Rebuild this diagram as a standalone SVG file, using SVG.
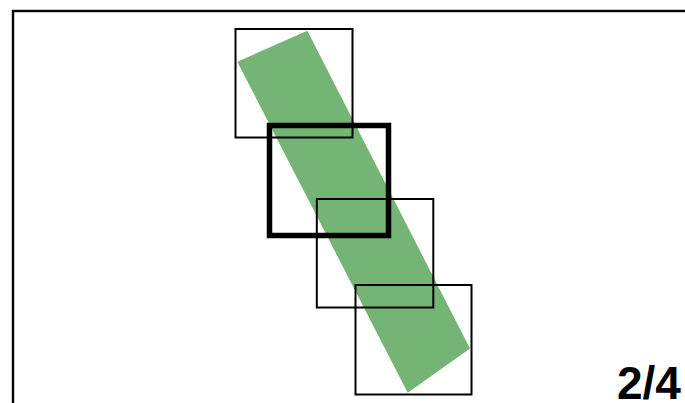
<svg xmlns="http://www.w3.org/2000/svg" width="685" height="403" viewBox="0 0 685 403">
<style>
.box{fill:none;stroke:#000;stroke-width:2}
.thick{fill:none;stroke:#000;stroke-width:5.5}
.lbl{font-family:"Liberation Sans",Arial,sans-serif;font-weight:bold;font-size:46px;fill:#000}
</style>
<rect width="685" height="403" fill="#fff"/>
<rect x="13" y="11" width="700" height="420" fill="none" stroke="#000" stroke-width="2.4"/>
<g id="band">
<polygon points="237.3,61.7 307.3,30.7 470,348.5 407.7,392.7" fill="#74b474"/>
</g>
<g id="frame1"><rect class="box" x="235.5" y="29" width="117" height="108.5"/></g>
<g id="frame2"><rect class="thick" x="269.5" y="125.5" width="119" height="110"/></g>
<g id="frame3"><rect class="box" x="316.8" y="199" width="116.5" height="108.5"/></g>
<g id="frame4"><rect class="box" x="355.5" y="285" width="116" height="109.5"/></g>
<g id="label"><text class="lbl" x="617" y="398.5">2/4</text></g>
</svg>
